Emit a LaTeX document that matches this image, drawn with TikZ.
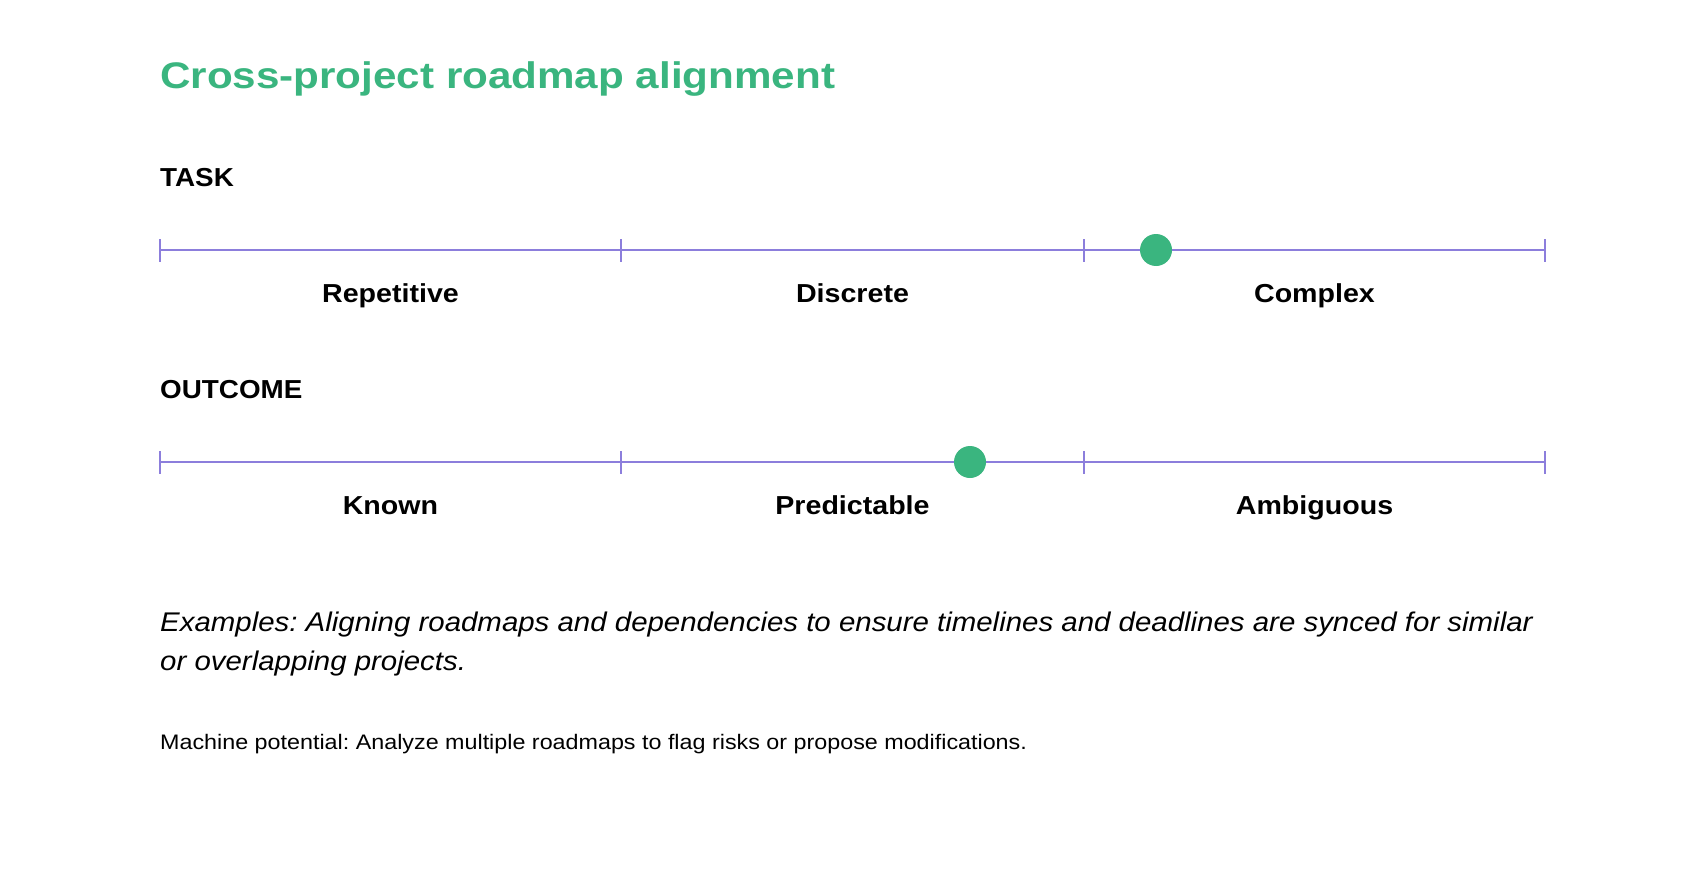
\documentclass[tikz,border=0pt]{standalone}
\usepackage{fontspec}
\setmainfont{Liberation Sans}
\newfontfamily\titlefam[FakeStretch=1.14]{Liberation Sans}
\newfontfamily\headfam[FakeStretch=1.07]{Liberation Sans}
\newfontfamily\labelfam[FakeStretch=1.10]{Liberation Sans}
\newfontfamily\exfam[FakeStretch=1.09]{Liberation Sans}
\newfontfamily\machfam[FakeStretch=1.11]{Liberation Sans}
\frenchspacing
\definecolor{brandgreen}{RGB}{58,181,127}
\definecolor{scalepurple}{RGB}{140,126,220}
\begin{document}
\begin{tikzpicture}[x=1pt,y=-1pt,
  titletext/.style={anchor=base west,inner sep=0,text=brandgreen,font=\titlefam\fontsize{37}{44}\selectfont\bfseries},
  heading/.style={anchor=base west,inner sep=0,font=\headfam\fontsize{26}{31}\selectfont\bfseries},
  seglabel/.style={anchor=base,inner sep=0,font=\labelfam\fontsize{26}{31}\selectfont\bfseries},
  bodyital/.style={anchor=base west,inner sep=0,font=\exfam\fontsize{27}{38}\selectfont\itshape},
  bodysmall/.style={anchor=base west,inner sep=0,font=\machfam\fontsize{21}{26}\selectfont},
  scaleline/.style={draw=scalepurple,line width=2.6pt},
  tickline/.style={draw=scalepurple,line width=2.6pt},
  marker/.style={circle,fill=brandgreen,minimum size=32pt,inner sep=0}]
\useasboundingbox (0,0) rectangle (1706,872);
\fill[white] (0,0) rectangle (1706,872);
\node[titletext] (title) at (160,89) {Cross-project roadmap alignment};
% TASK scale
\node[heading] (task) at (160,186) {TASK};
\coordinate (a1) at (160,250);
\coordinate (a2) at (621,250);
\coordinate (a3) at (1084,250);
\coordinate (a4) at (1545,250);
\draw[scaleline] (a1) -- (a4);
\foreach \c in {a1,a2,a3,a4}{\draw[tickline] ([yshift=-11.5pt]\c) -- ([yshift=11.5pt]\c);}
\node[marker] (m1) at (1156,250) {};
\node[seglabel] (rep) at (390.5,302) {Repetitive};
\node[seglabel] (dis) at (852.5,302) {Discrete};
\node[seglabel] (com) at (1314.5,302) {Complex};
% OUTCOME scale
\node[heading] (outcome) at (160,398) {OUTCOME};
\coordinate (b1) at (160,462);
\coordinate (b2) at (621,462);
\coordinate (b3) at (1084,462);
\coordinate (b4) at (1545,462);
\draw[scaleline] (b1) -- (b4);
\foreach \c in {b1,b2,b3,b4}{\draw[tickline] ([yshift=-11.5pt]\c) -- ([yshift=11.5pt]\c);}
\node[marker] (m2) at (970,462) {};
\node[seglabel] (kno) at (390.5,514) {Known};
\node[seglabel] (pre) at (852.5,514) {Predictable};
\node[seglabel] (amb) at (1314.5,514) {Ambiguous};
% text
\node[bodyital] (ex1) at (160,631) {Examples: Aligning roadmaps and dependencies to ensure timelines and deadlines are synced for similar};
\node[bodyital] (ex2) at (160,670) {or overlapping projects.};
\node[bodysmall] (mach) at (160,749) {Machine potential: Analyze multiple roadmaps to flag risks or propose modifications.};
\end{tikzpicture}
\end{document}
